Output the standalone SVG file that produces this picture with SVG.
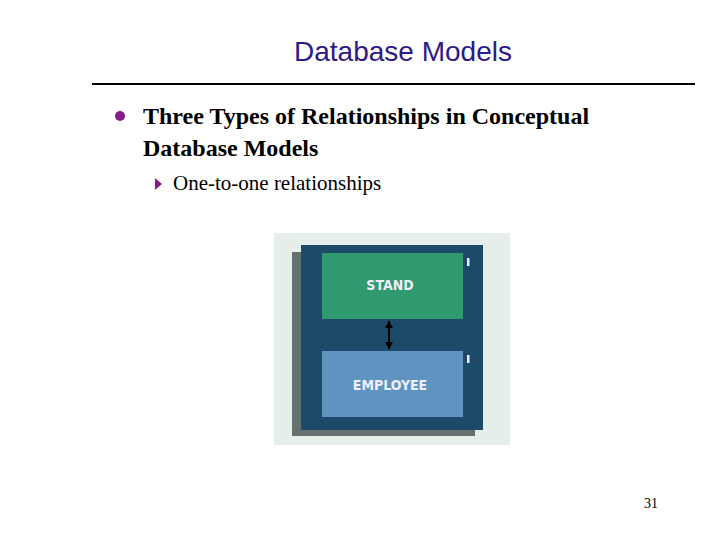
<svg xmlns="http://www.w3.org/2000/svg" width="720" height="540" viewBox="0 0 720 540">
<style>
.t{font-family:"Liberation Serif",serif;fill:#000}
.n{font-family:"DejaVu Sans Condensed","DejaVu Sans",sans-serif;font-weight:bold;font-size:14px;fill:#eef;text-anchor:middle}
</style>
<defs>
<marker id="a" viewBox="0 0 10 10" refX="9" refY="5" markerWidth="4" markerHeight="4" orient="auto-start-reverse"><path d="M0,0L10,5L0,10z" fill="#000"/></marker>
</defs>
<rect width="720" height="540" fill="#fff"/>
<text x="403" y="61" font-family="Liberation Sans,sans-serif" font-size="28" fill="#2e1a87" text-anchor="middle">Database Models</text>
<line x1="92" y1="84" x2="695" y2="84" stroke="#000" stroke-width="2"/>
<circle cx="120" cy="116" r="5" fill="#8a1a8a"/>
<text class="t" x="143" y="124" font-size="24" font-weight="bold">Three Types of Relationships in Conceptual</text>
<text class="t" x="143" y="156" font-size="24" font-weight="bold">Database Models</text>
<path d="M155,178 l7,6 l-7,6 z" fill="#8a1a8a"/>
<text class="t" x="173" y="190" font-size="21">One-to-one relationships</text>
<text class="t" x="658" y="508" font-size="14" text-anchor="end">31</text>
<rect x="274" y="233" width="236" height="212" fill="#e6eeea"/>
<rect x="292" y="252" width="183" height="184" fill="#2c3c3c" opacity="0.7"/>
<rect x="301" y="245" width="182" height="185" fill="#1c4a68"/>
<g id="stand"><rect x="322" y="253" width="141" height="66" fill="#2f9a6e"/><text class="n" x="390" y="290">STAND</text></g>
<g id="employee"><rect x="322" y="351" width="141" height="66" fill="#5e94bf"/><text class="n" x="390" y="390">EMPLOYEE</text></g>
<g id="connectors">
<line x1="389" y1="321" x2="389" y2="349" stroke="#000" stroke-width="2" marker-start="url(#a)" marker-end="url(#a)"/>
<rect x="467" y="258" width="2.5" height="8" fill="#eef"/>
<rect x="467" y="355" width="2.5" height="8" fill="#eef"/>
</g>
</svg>
